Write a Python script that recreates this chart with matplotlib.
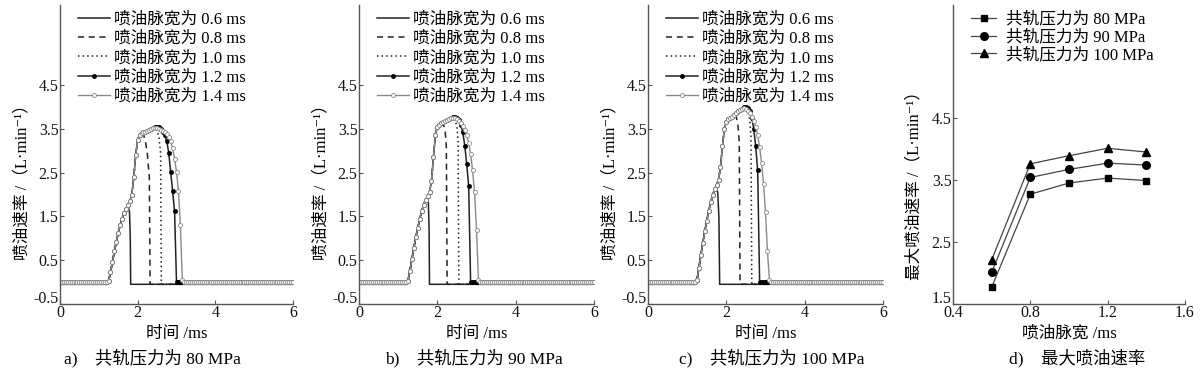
import numpy as np
import matplotlib
matplotlib.use('Agg')
import matplotlib.pyplot as plt
import matplotlib.transforms as mtransforms

plt.rcParams['font.family'] = ['Liberation Serif', 'Noto Sans CJK SC', 'DejaVu Sans']
plt.rcParams['axes.unicode_minus'] = False

# ---------------- data ----------------
# sampling grid of the injection-rate curves (ms)
GRID = np.round(np.arange(0, 6.0001, 0.05), 2)
ACT_START = 1.20            # first sample of the typed active part
BASE_HI = 0.0               # baseline of 1.2 / 1.4 ms curves
BASE_LO = -0.05             # baseline of 0.6 / 0.8 / 1.0 ms curves

pulse_labels = ['喷油脉宽为 0.6 ms', '喷油脉宽为 0.8 ms', '喷油脉宽为 1.0 ms',
                '喷油脉宽为 1.2 ms', '喷油脉宽为 1.4 ms']

# 1.4 ms curves (envelope), samples from 1.20 ms every 0.05 ms
env_80 = [0.00, 0.02, 0.22, 0.46, 0.70, 0.92, 1.12, 1.30, 1.45, 1.58,
          1.68, 1.77, 1.86, 2.00, 2.40, 2.90, 3.25, 3.36, 3.40, 3.42,
          3.44, 3.46, 3.48, 3.50, 3.52, 3.53, 3.52, 3.50, 3.48, 3.45,
          3.42, 3.38, 3.32, 3.22, 3.06, 2.82, 2.52, 2.08, 1.30, 0.05, 0.00]
env_90 = [0.00, 0.03, 0.26, 0.52, 0.78, 1.02, 1.24, 1.44, 1.62, 1.77,
          1.88, 1.97, 2.06, 2.30, 2.85, 3.35, 3.55, 3.60, 3.63, 3.65,
          3.68, 3.71, 3.73, 3.75, 3.76, 3.75, 3.72, 3.68, 3.63, 3.57,
          3.48, 3.36, 3.18, 2.92, 2.55, 2.05, 1.20, 0.05, 0.00]
env_100 = [0.00, 0.05, 0.32, 0.62, 0.90, 1.16, 1.40, 1.62, 1.82, 1.98,
           2.12, 2.22, 2.34, 2.62, 3.10, 3.50, 3.66, 3.72, 3.75, 3.78,
           3.82, 3.86, 3.90, 3.93, 3.96, 3.97, 3.96, 3.92, 3.86, 3.78,
           3.68, 3.55, 3.35, 3.08, 2.72, 2.25, 1.60, 0.70, 0.05, 0.00]

# other pulse widths: follow the envelope up to 'cut', then typed tail (t, v)
tails_80 = {
    0.6: (1.70, [1.75, 1.79, 1.81, 1.82], [1.74, 1.60, 1.00, BASE_LO]),
    0.8: (2.10, [2.15, 2.20, 2.25, 2.30, 2.32], [3.37, 3.22, 2.92, 2.40, BASE_LO]),
    1.0: (2.45, [2.50, 2.55, 2.59, 2.61], [3.47, 3.30, 2.95, BASE_LO]),
    1.2: (2.40, [2.45, 2.50, 2.55, 2.60, 2.65, 2.70, 2.75, 2.80, 2.85, 2.90, 2.95, 3.00],
          [3.54, 3.55, 3.54, 3.50, 3.44, 3.36, 3.22, 2.95, 2.52, 2.08, 1.62, BASE_HI]),
}
tails_90 = {
    0.6: (1.70, [1.74, 1.77, 1.79, 1.80], [1.95, 1.85, 1.20, BASE_LO]),
    0.8: (2.10, [2.15, 2.20, 2.23, 2.25], [3.62, 3.45, 3.10, BASE_LO]),
    1.0: (2.40, [2.45, 2.50, 2.53, 2.55], [3.72, 3.55, 3.20, BASE_LO]),
    1.2: (2.35, [2.40, 2.45, 2.50, 2.55, 2.60, 2.65, 2.70, 2.75, 2.80, 2.85],
          [3.77, 3.78, 3.76, 3.70, 3.60, 3.42, 3.12, 2.70, 2.20, BASE_HI]),
}
tails_100 = {
    0.6: (1.70, [1.74, 1.78, 1.81, 1.83], [2.20, 2.05, 1.50, BASE_LO]),
    0.8: (2.20, [2.25, 2.30, 2.33, 2.35], [3.80, 3.55, 3.20, BASE_LO]),
    1.0: (2.50, [2.55, 2.60, 2.63, 2.65], [3.90, 3.70, 3.30, BASE_LO]),
    1.2: (2.40, [2.45, 2.50, 2.55, 2.60, 2.65, 2.70, 2.75, 2.80, 2.85],
          [4.00, 4.01, 3.98, 3.90, 3.75, 3.50, 3.10, 2.55, BASE_HI]),
}

panels = [
    ('a)    共轨压力为 80 MPa', env_80, tails_80),
    ('b)    共轨压力为 90 MPa', env_90, tails_90),
    ('c)    共轨压力为 100 MPa', env_100, tails_100),
]

# panel d: maximum injection rate
pulse_width = [0.6, 0.8, 1.0, 1.2, 1.4]
max_80 = [1.77, 3.27, 3.45, 3.53, 3.49]
max_90 = [2.01, 3.54, 3.67, 3.77, 3.74]
max_100 = [2.21, 3.76, 3.89, 4.01, 3.95]
d_labels = ['共轨压力为 80 MPa', '共轨压力为 90 MPa', '共轨压力为 100 MPa']

# ---------------- helpers ----------------
def env_series(env):
    t_env = GRID[(GRID >= ACT_START - 1e-9)][:len(env)]
    return t_env, np.array(env)

def full_14(env):
    t_env, v_env = env_series(env)
    pre = GRID[GRID < ACT_START - 1e-9]
    post = GRID[GRID > t_env[-1] + 1e-9]
    t = np.concatenate([pre, t_env, post])
    v = np.concatenate([np.full(len(pre), BASE_HI), v_env, np.full(len(post), BASE_HI)])
    return t, v

def cut_series(env, cut, tt, tv, base, dense_tail):
    t_env, v_env = env_series(env)
    m = (t_env >= 1.25 - 1e-9) & (t_env <= cut + 1e-9)
    if dense_tail:
        pre = GRID[GRID < 1.25 - 1e-9]
        post = GRID[GRID > tt[-1] + 1e-9]
    else:
        pre = np.array([0.0, 1.22])
        post = np.array([6.0])
    t = np.concatenate([pre, t_env[m], tt, post])
    v = np.concatenate([np.full(len(pre), base), v_env[m], tv, np.full(len(post), base)])
    return t, v

# ---------------- figure ----------------
fig = plt.figure(figsize=(12, 3.74), dpi=100)
W, H = 1200.0, 374.0
ax_bottom = 304
ax_top = 5
lefts = [60, 359, 648]
widths = [233, 235, 235]
cap_x = [152, 474, 772]

SPINE = '#555555'
LINE = '#222222'
GRAY = '#8a8a8a'
FS_TICK = 11.5
FS_LEG = 12
FS_LAB = 12
FS_CAP = 12.5

def style_axes(ax):
    for s in ['top', 'right']:
        ax.spines[s].set_visible(False)
    for s in ['left', 'bottom']:
        ax.spines[s].set_color(SPINE)
        ax.spines[s].set_linewidth(1.0)
    ax.tick_params(direction='in', length=3, width=0.8, color=SPINE,
                   labelsize=FS_TICK, pad=1, labelcolor='#111111')

def lift_first_ylabel(ax):
    off = mtransforms.ScaledTranslation(0, 5 / 72, fig.dpi_scale_trans)
    lab = ax.get_yticklabels()[0]
    lab.set_transform(lab.get_transform() + off)

all_axes = []
for i, (cap, env, tails) in enumerate(panels):
    ax = fig.add_axes([lefts[i] / W, 1 - ax_bottom / H, widths[i] / W,
                       (ax_bottom - ax_top) / H])
    handles = []
    t, v = cut_series(env, *tails[0.6], BASE_LO, False)
    h, = ax.plot(t, v, color=LINE, lw=1.1, ls='-')
    handles.append(h)
    t, v = cut_series(env, *tails[0.8], BASE_LO, False)
    h, = ax.plot(t, v, color=LINE, lw=1.1, ls=(0, (4, 3)))
    handles.append(h)
    t, v = cut_series(env, *tails[1.0], BASE_LO, False)
    h, = ax.plot(t, v, color=LINE, lw=1.1, ls=(0, (1, 2)))
    handles.append(h)
    t, v = cut_series(env, *tails[1.2], BASE_HI, True)
    h, = ax.plot(t, v, color=LINE, lw=1.1, marker='o', ms=3.0, mfc='black',
                 mec='black', mew=0.5)
    handles.append(h)
    t, v = full_14(env)
    h, = ax.plot(t, v, color=GRAY, lw=1.0, marker='o', ms=2.9, mfc='white',
                 mec=GRAY, mew=0.6)
    handles.append(h)

    ax.set_xlim(0, 6)
    ax.set_ylim(-0.5, 6.33)
    ax.set_xticks([0, 2, 4, 6])
    ax.set_yticks([-0.5, 0.5, 1.5, 2.5, 3.5, 4.5])
    ax.set_yticklabels(['-0.5', '0.5', '1.5', '2.5', '3.5', '4.5'])
    style_axes(ax)
    ax.set_xlabel('时间 /ms', fontsize=FS_LAB, labelpad=3)
    ax.set_ylabel('喷油速率 /（L·min⁻¹）', fontsize=FS_LAB, labelpad=1)
    ax.yaxis.set_label_coords(-0.125, 0.42)
    ax.legend(handles, pulse_labels, loc='upper left',
              bbox_to_anchor=(0.05, 1.0), frameon=False, fontsize=FS_LEG,
              handlelength=1.9, handletextpad=0.25, labelspacing=0.2,
              borderaxespad=0.0)
    fig.text(cap_x[i] / W, 16 / H, cap, ha='center', va='center', fontsize=FS_CAP)
    all_axes.append(ax)

# panel d
axd = fig.add_axes([953 / W, 1 - ax_bottom / H, 232 / W, (ax_bottom - ax_top) / H])
hd = []
h, = axd.plot(pulse_width, max_80, color='#444444', lw=0.9, marker='s', ms=5,
              mfc='black', mec='black')
hd.append(h)
h, = axd.plot(pulse_width, max_90, color='#444444', lw=0.9, marker='o', ms=5.5,
              mfc='black', mec='black')
hd.append(h)
h, = axd.plot(pulse_width, max_100, color='#444444', lw=0.9, marker='^', ms=5.5,
              mfc='black', mec='black')
hd.append(h)
axd.set_xlim(0.4, 1.6)
axd.set_ylim(1.5, 6.32)
axd.set_xticks([0.4, 0.8, 1.2, 1.6])
axd.set_yticks([1.5, 2.5, 3.5, 4.5])
style_axes(axd)
axd.set_xlabel('喷油脉宽 /ms', fontsize=FS_LAB, labelpad=3)
axd.set_ylabel('最大喷油速率 /（L·min⁻¹）', fontsize=FS_LAB, labelpad=1)
axd.yaxis.set_label_coords(-0.13, 0.41)
axd.legend(hd, d_labels, loc='upper left', bbox_to_anchor=(0.05, 1.0),
           frameon=False, fontsize=FS_LEG, handlelength=1.5, handletextpad=0.6,
           labelspacing=0.1, borderaxespad=0.0)
fig.text(1077 / W, 16 / H, 'd)    最大喷油速率', ha='center', va='center',
         fontsize=FS_CAP)
all_axes.append(axd)

fig.canvas.draw()
for ax in all_axes:
    lift_first_ylabel(ax)

fig.savefig('out.png', dpi=100, facecolor='white')
